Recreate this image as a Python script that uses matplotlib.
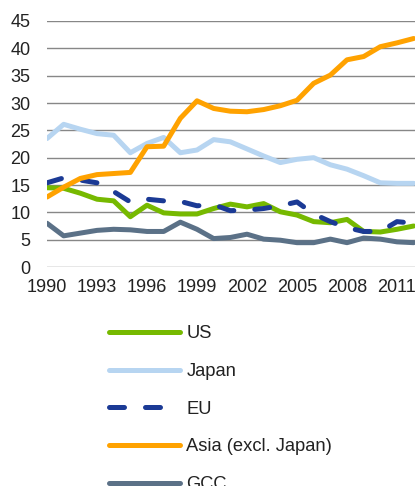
import matplotlib
matplotlib.use("Agg")
import matplotlib.pyplot as plt

years = list(range(1990, 2013))

us = [14.5, 14.4, 13.5, 12.4, 12.1, 9.2, 11.3, 9.9, 9.7, 9.7, 10.7, 11.5,
      11.0, 11.6, 10.1, 9.5, 8.3, 8.1, 8.7, 6.5, 6.4, 6.9, 7.5]
japan = [23.5, 26.1, 25.2, 24.4, 24.1, 20.9, 22.6, 23.7, 20.9, 21.4, 23.3, 22.9,
         21.6, 20.3, 19.1, 19.7, 20.0, 18.7, 17.9, 16.7, 15.4, 15.3, 15.3]
eu = [15.4, 16.3, 15.9, 15.4, 13.8, 11.9, 12.4, 12.1, 12.0, 11.2, 11.4, 10.3,
      10.4, 10.7, 11.2, 11.9, 9.7, 8.3, 7.2, 6.5, 6.5, 8.3, 8.0]
asia = [12.8, 14.6, 16.2, 16.9, 17.1, 17.3, 22.0, 22.1, 27.2, 30.4, 29.0, 28.5,
        28.4, 28.8, 29.5, 30.5, 33.6, 35.1, 37.9, 38.5, 40.3, 41.0, 41.8]
gcc = [8.0, 5.7, 6.2, 6.7, 6.9, 6.8, 6.5, 6.5, 8.2, 6.9, 5.2, 5.4,
       6.0, 5.1, 4.9, 4.45, 4.45, 5.1, 4.45, 5.3, 5.1, 4.6, 4.45]

y_ticks = list(range(0, 50, 5))
x_ticks = list(range(1990, 2012, 3))

plt.rcParams["font.family"] = ["Liberation Sans", "DejaVu Sans"]

fig = plt.figure(figsize=(4.17, 4.86), dpi=100)
ax = fig.add_axes([47 / 417, 1 - 267 / 486, 368 / 417, 246 / 486])

lw = 3.6
ax.plot(years, us, color="#76b900", lw=lw, label="US", solid_capstyle="round")
ax.plot(years, japan, color="#b7d5f1", lw=lw, label="Japan", solid_capstyle="round")
ax.plot(years, eu, color="#1b3a95", lw=lw, label="EU", linestyle=(0, (3, 4.2)),
        dash_capstyle="round")
ax.plot(years, asia, color="#ffa200", lw=lw, label="Asia (excl. Japan)", solid_capstyle="round")
ax.plot(years, gcc, color="#5b7187", lw=lw, label="GCC", solid_capstyle="round")

ax.set_xlim(1990, 2012.08)
ax.set_ylim(0, 45)
ax.set_yticks(y_ticks)
ax.set_xticks(x_ticks)
ax.grid(axis="y", color="#878787", lw=1)
ax.set_axisbelow(True)
for s in ax.spines.values():
    s.set_visible(False)
ax.tick_params(axis="both", length=0, labelsize=13, colors="#222222")
ax.tick_params(axis="y", pad=12)
ax.tick_params(axis="x", pad=9)
for lbl in ax.get_xticklabels():
    lbl.set_clip_on(False)

handles, labels = ax.get_legend_handles_labels()
fig.legend(handles, labels, loc="upper left", bbox_to_anchor=(102 / 417, 1 - 318 / 486),
           frameon=False, fontsize=13.2, handlelength=3.85, handletextpad=0.35,
           labelspacing=1.13, borderaxespad=0, labelcolor="#222222")

fig.savefig("out.png", dpi=100)
